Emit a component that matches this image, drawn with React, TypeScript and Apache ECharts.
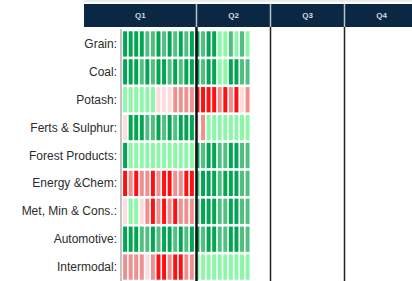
import React, { useEffect, useRef } from "react";
import * as echarts from "echarts";

// Row categories (top to bottom)
const commodities = [
  "Grain:",
  "Coal:",
  "Potash:",
  "Ferts & Sulphur:",
  "Forest Products:",
  "Energy &Chem:",
  "Met, Min & Cons.:",
  "Automotive:",
  "Intermodal:",
];

const quarters = ["Q1", "Q2", "Q3", "Q4"];
const weeksPerQuarter = 13;
const weeks = quarters.flatMap((q) =>
  Array.from({ length: weeksPerQuarter }, (_, i) => `${q} W${i + 1}`)
);

// Weekly score (-3 strong decline ... +3 strong growth), Q1 (13 wks) + Q2 (10 wks)
const grain = [3, 3, 3, 3, 2, 2, 3, 2, 3, 2, 3, 2, 3, 3, 2, 3, 3, 1, 1, 2, 1, 2, 1];
const coal = [3, 3, 3, 2, 3, 2, 3, 3, 2, 3, 2, 3, 3, 3, 2, 3, 3, 1, 1, 3, 3, 2, 2];
const potash = [1, 1, 1, 1, 1, 1, -1, -1, -1, -2, -2, -2, -2, -3, -3, -3, -3, -2, -3, -2, -3, -1, -2];
const ferts = [-1, 3, 3, 3, 2, 2, 3, 2, 3, 2, 3, 3, 3, -1, -2, 1, 1, 1, 1, 1, 1, 1, 1];
const forest = [3, 1, 1, 1, 1, 1, 1, 1, 1, 1, 1, 1, 1, 3, 2, 3, 3, 2, 2, 3, 3, 2, 2];
const energy = [-3, -2, -3, -2, -2, -3, -2, -3, -3, -2, -2, -3, -3, 2, 3, 3, 3, 2, 3, 3, 3, 2, 2];
const metMin = [-1, 1, 1, -1, -2, -3, -2, -3, -2, -3, -2, -2, -2, 2, 3, 3, 3, 2, 2, 3, 3, 2, 2];
const automotive = [3, 3, 3, 2, 2, 3, 2, 3, 3, 2, 3, 2, 3, 3, 2, 3, 3, 2, 2, 3, 3, 2, 2];
const intermodal = [-2, -2, -2, -2, -1, -2, -3, -3, -2, -3, -3, -2, -2, 1, 1, 1, 1, 1, 1, 1, 1, 1, 1];

const rowValues = [grain, coal, potash, ferts, forest, energy, metMin, automotive, intermodal];

const scoreColors: Record<string, string> = {
  "3": "#00a651",
  "2": "#4fc07f",
  "1": "#8cf7a9",
  "-1": "#fcdcdc",
  "-2": "#ef8f8f",
  "-3": "#ff0f0f",
};

export default function App() {
  const ref = useRef<HTMLDivElement>(null);

  useEffect(() => {
    if (!ref.current) return;
    const chart = echarts.init(ref.current, undefined, { renderer: "svg" });

    const gridLeft = 122.5;
    const gridTop = 30;
    const weekW = 74 / weeksPerQuarter;
    const gridWidth = weekW * weeks.length;
    const rowH = 28.4;
    const gridHeight = rowH * commodities.length;

    const data: number[][] = [];
    rowValues.forEach((vals, r) => {
      vals.forEach((v, w) => data.push([w, r, v]));
    });

    const qx = (q: number) => gridLeft + q * weekW * weeksPerQuarter;
    const headerLeft = 84;
    const headerRight = 430;
    const qCenters = quarters.map((_, i) => {
      const a = i === 0 ? headerLeft : qx(i);
      const b = qx(i + 1);
      return (a + Math.min(b, headerRight)) / 2;
    });

    const graphics: any[] = [
      {
        type: "line",
        shape: { x1: headerLeft, y1: 1, x2: 412, y2: 1 },
        style: { stroke: "#d3dade", lineWidth: 1 },
        z: 100,
      },
      {
        type: "rect",
        shape: { x: headerLeft, y: 4, width: headerRight - headerLeft, height: 23 },
        style: { fill: "#0a2843" },
        z: 100,
      },
      ...[1, 2, 3].map((i) => ({
        type: "line",
        shape: { x1: qx(i), y1: 4, x2: qx(i), y2: 27 },
        style: { stroke: "#b9c2ca", lineWidth: 1.5 },
        z: 101,
      })),
      ...quarters.map((q, i) => ({
        type: "text",
        x: qCenters[i],
        y: 15.5,
        style: {
          text: q,
          fill: "#d5dbe0",
          font: "bold 8px 'Liberation Sans', Arial, sans-serif",
          align: "center",
          verticalAlign: "middle",
        },
        z: 102,
      })),
      {
        type: "line",
        shape: { x1: qx(1), y1: 27, x2: qx(1), y2: 290 },
        style: { stroke: "#101010", lineWidth: 2.5 },
        z: 100,
      },
      ...[2, 3].map((i) => ({
        type: "line",
        shape: { x1: qx(i), y1: 27, x2: qx(i), y2: 290 },
        style: { stroke: "#222222", lineWidth: 1.5 },
        z: 100,
      })),
    ];

    chart.setOption({
      animation: false,
      backgroundColor: "#ffffff",
      grid: { left: gridLeft, top: gridTop, width: gridWidth, height: gridHeight },
      visualMap: {
        show: false,
        type: "piecewise",
        dimension: 2,
        seriesIndex: 0,
        pieces: [3, 2, 1, -1, -2, -3].map((v) => ({ value: v, color: scoreColors[String(v)] })),
      },
      xAxis: {
        type: "category",
        data: weeks,
        axisLine: { show: false },
        axisTick: { show: false },
        axisLabel: { show: false },
        splitLine: { show: false },
      },
      yAxis: {
        type: "category",
        data: commodities,
        inverse: true,
        offset: 1.5,
        axisLine: { show: true, lineStyle: { color: "#c4c4c4", width: 2 } },
        axisTick: { show: false },
        splitLine: { show: false },
        axisLabel: {
          margin: 4,
          color: "#2b2b2b",
          fontSize: 12,
          fontFamily: "'Liberation Sans', Arial, sans-serif",
        },
      },
      graphic: graphics,
      series: [
        {
          type: "custom",
          data,
          encode: { x: 0, y: 1 },
          renderItem: (params: any, api: any) => {
            const p = api.coord([api.value(0), api.value(1)]);
            const s = api.size([1, 1]);
            return {
              type: "rect",
              shape: {
                x: p[0] - s[0] / 2 + 0.6,
                y: p[1] - s[1] / 2 + 1.3,
                width: s[0] - 1.6,
                height: s[1] - 2.6,
              },
              style: { fill: api.visual("color") },
            };
          },
        },
      ],
    });

    return () => chart.dispose();
  }, []);

  return (
    <div
      ref={ref}
      style={{ position: "fixed", left: 0, top: 0, width: 412, height: 281 }}
    />
  );
}
